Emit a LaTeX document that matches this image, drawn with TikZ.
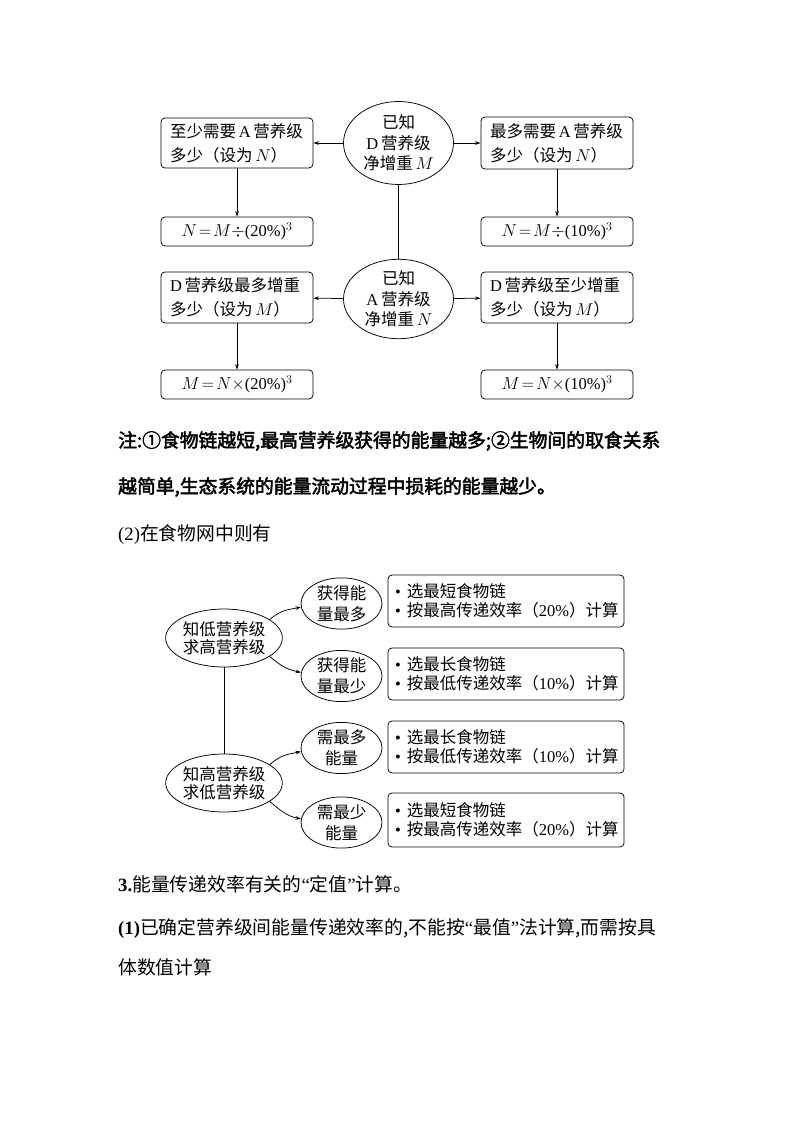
\documentclass[tikz,border=0pt]{standalone}
\usepackage{fontspec}
\setmainfont{Liberation Serif}
\newfontfamily\cjk{Noto Sans CJK SC}[AutoFakeBold=2.5]
\usetikzlibrary{shapes.geometric,arrows.meta}
\newcommand{\lat}[1]{{\rmfamily #1}}
\newcommand{\bl}[1]{\mbox{\lat{\textbullet}\hspace{6pt}#1}}
\tikzset{
  ln/.style={line width=0.75pt},
  arr/.style={ln,-{Stealth[length=5.5pt,width=3.6pt]}},
  tbox/.style={draw,ln,rounded corners=4pt,inner xsep=9pt,inner ysep=0pt,text width=134pt,align=left,
    font=\cjk\fontsize{16.5}{24}\selectfont},
  fbox/.style={draw,ln,rounded corners=4pt,inner sep=0pt,minimum width=152pt,minimum height=29pt,align=center,
    font=\fontsize{16.5}{19}\selectfont},
  tell/.style={draw,ln,ellipse,inner sep=0pt,minimum width=110pt,align=center,
    font=\cjk\fontsize{16.5}{20.5}\selectfont},
  bell/.style={draw,ln,ellipse,inner sep=0pt,minimum width=110pt,minimum height=58pt,align=center,
    font=\cjk\fontsize{16.5}{18.5}\selectfont},
  sell/.style={draw,ln,ellipse,inner sep=0pt,minimum width=81pt,minimum height=50pt,align=center,
    font=\cjk\fontsize{16.5}{21}\selectfont},
  bbox/.style={draw,ln,rounded corners=4pt,inner xsep=7pt,inner ysep=0pt,text width=222pt,minimum height=52pt,align=left,
    font=\cjk\fontsize{16.5}{19}\selectfont},
  body/.style={anchor=west,inner sep=0pt,font=\cjk\fontsize{18.8}{22}\selectfont},
  bodyb/.style={body,font=\cjk\bfseries\fontsize{18.8}{22}\selectfont}
}
\begin{document}
\begin{tikzpicture}[x=1pt,y=-1pt]
\useasboundingbox (0,0) rectangle (794,1123);
% ---------- top diagram ----------
\node[tell,minimum height=83pt] (e1) at (398.5,143) {已知\\\lat{D}\,营养级\\净增重\,$M$};
\node[tell,minimum height=78pt] (e2) at (398.5,299) {已知\\\lat{A}\,营养级\\净增重\,$N$};
\node[tbox,minimum height=50pt] (tl) at (237,143) {至少需要\,\lat{A}\,营养级\\多少（设为\,$N$）};
\node[tbox,minimum height=52pt] (tr) at (557,143) {最多需要\,\lat{A}\,营养级\\多少（设为\,$N$）};
\node[fbox] (fl) at (237,231.5) {$N\!=\!M\div$\lat{(20\%)}$^3$};
\node[fbox] (fr) at (557,231.5) {$N\!=\!M\div$\lat{(10\%)}$^3$};
\node[tbox,minimum height=51pt] (ml) at (237,297.5) {\lat{D}\,营养级最多增重\\多少（设为\,$M$）};
\node[tbox,minimum height=51pt] (mr) at (557,297.5) {\lat{D}\,营养级至少增重\\多少（设为\,$M$）};
\node[fbox] (gl) at (237,384.5) {$M\!=\!N\times$\lat{(20\%)}$^3$};
\node[fbox] (gr) at (557,384.5) {$M\!=\!N\times$\lat{(10\%)}$^3$};
\draw[ln] (e1) -- (e2);
\draw[arr] (e1) -- (tl);
\draw[arr] (e1) -- (tr);
\draw[arr] (e2) -- (ml);
\draw[arr] (e2) -- (mr);
\draw[arr] (tl) -- (fl);
\draw[arr] (tr) -- (fr);
\draw[arr] (ml) -- (gl);
\draw[arr] (mr) -- (gr);
% ---------- text ----------
\node[bodyb] (n1) at (118,441) {注:①食物链越短,最高营养级获得的能量越多;②生物间的取食关系};
\node[bodyb] (n2) at (118,487) {越简单,生态系统的能量流动过程中损耗的能量越少。};
\node[body] (n3) at (118,535) {\lat{(2)}在食物网中则有};
% ---------- bottom diagram ----------
\node[bell] (A) at (224,638) {知低营养级\\求高营养级};
\node[bell] (B) at (224,783) {知高营养级\\求低营养级};
\node[sell] (s1) at (341.5,603.5) {获得能\\量最多};
\node[sell] (s2) at (341.5,676) {获得能\\量最少};
\node[sell] (s3) at (341.5,748) {需最多\\能量};
\node[sell] (s4) at (341.5,822.5) {需最少\\能量};
\node[bbox] (b1) at (506,601) {\bl{选最短食物链}\\\bl{按最高传递效率（\lat{20\%}）计算}};
\node[bbox] (b2) at (506,674) {\bl{选最长食物链}\\\bl{按最低传递效率（\lat{10\%}）计算}};
\node[bbox] (b3) at (506,747) {\bl{选最长食物链}\\\bl{按最低传递效率（\lat{10\%}）计算}};
\node[bbox,minimum height=54pt] (b4) at (506,820) {\bl{选最短食物链}\\\bl{按最高传递效率（\lat{20\%}）计算}};
\draw[ln] (A) -- (B);
\draw[arr] (A.22) .. controls +(12,-10) and +(-14,3) .. (s1.185);
\draw[arr] (A.-22) .. controls +(12,10) and +(-14,-3) .. (s2.175);
\draw[arr] (B.22) .. controls +(12,-10) and +(-14,3) .. (s3.185);
\draw[arr] (B.-22) .. controls +(12,10) and +(-14,-3) .. (s4.175);
% ---------- text ----------
\node[body] (n4) at (118,884) {\lat{\textbf{3.}}能量传递效率有关的\lat{“}定值\lat{”}计算。};
\node[body] (n5) at (118,929) {\lat{\textbf{(1)}}已确定营养级间能量传递效率的,不能按\lat{“}最值\lat{”}法计算,而需按具};
\node[body] (n6) at (118,967) {体数值计算};
\end{tikzpicture}
\end{document}
